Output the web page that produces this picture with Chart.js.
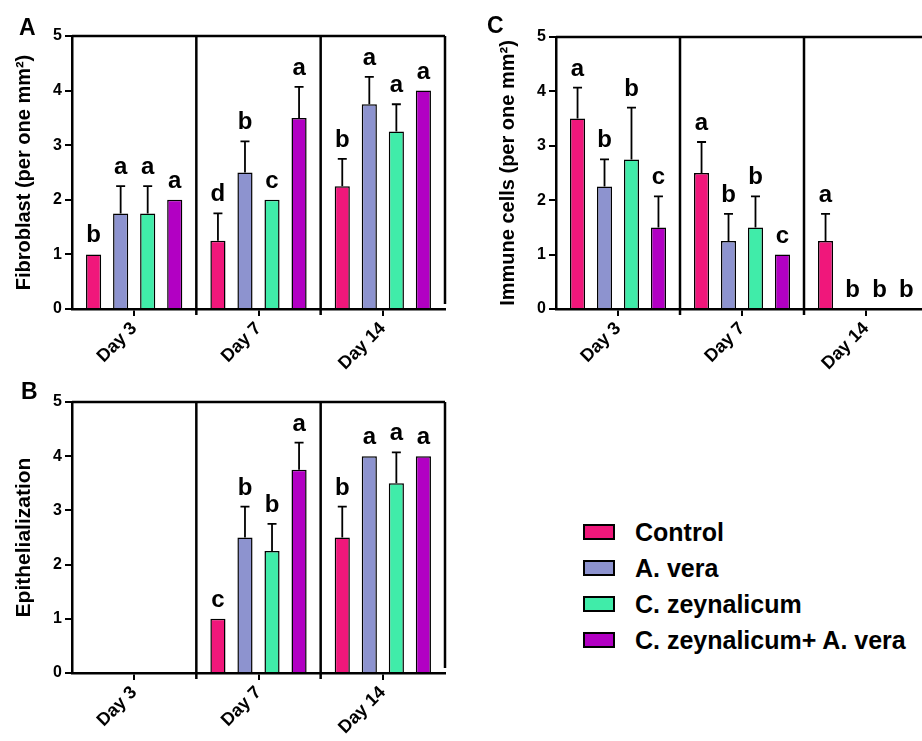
<!DOCTYPE html>
<html>
<head>
<meta charset="utf-8">
<script src="https://cdn.jsdelivr.net/npm/chart.js@4.4.1/dist/chart.umd.min.js"></script>
<style>
  body { margin: 0; width: 922px; height: 741px; overflow: hidden; background: #fff; position: relative; font-family: 'Liberation Sans', Arial, sans-serif; }
  canvas { position: absolute; }
  .panel { position: absolute; font-weight: bold; font-size: 23px; line-height: 23px; }
  #legend { position: absolute; left: 583px; top: 514px; }
  .row { height: 36px; display: flex; align-items: center; font-weight: bold; font-size: 25px; color: #000; }
  .box { width: 28px; height: 12px; border: 2px solid #000; margin-right: 20px; }
</style>
</head>
<body>
<canvas id="chartA" width="460" height="382" style="left:0;top:0"></canvas>
<canvas id="chartB" width="460" height="371" style="left:0;top:370px"></canvas>
<canvas id="chartC" width="470" height="382" style="left:460px;top:0"></canvas>
<div class="panel" style="left:19px;top:16px">A</div>
<div class="panel" style="left:21px;top:380px">B</div>
<div class="panel" style="left:487px;top:14px">C</div>
<div id="legend"></div>
<script>
// categories and groups
const days = ['Day 3', 'Day 7', 'Day 14'];
const groups = ['Control', 'A. vera', 'C. zeynalicum', 'C. zeynalicum+ A. vera'];
const colors = ['#F0177B', '#8D93CF', '#40ECA9', '#B200C3'];
const yTicks = [0, 1, 2, 3, 4, 5];

// A - fibroblast, one row per group (Day 3, Day 7, Day 14)
const fibroMean = [[1, 1.25, 2.25], [1.75, 2.5, 3.75], [1.75, 2, 3.25], [2, 3.5, 4]];
const fibroErr = [[0, 0.5, 0.5], [0.5, 0.57, 0.5], [0.5, 0, 0.5], [0, 0.57, 0]];
const fibroLetters = [['b', 'd', 'b'], ['a', 'b', 'a'], ['a', 'c', 'a'], ['a', 'a', 'a']];

// B - epithelialization
const epiMean = [[0, 1, 2.5], [0, 2.5, 4], [0, 2.25, 3.5], [0, 3.75, 4]];
const epiErr = [[0, 0, 0.57], [0, 0.57, 0], [0, 0.5, 0.57], [0, 0.5, 0]];
const epiLetters = [['', 'c', 'b'], ['', 'b', 'a'], ['', 'b', 'a'], ['', 'a', 'a']];

// C - immune cells
const immuneMean = [[3.5, 2.5, 1.25], [2.25, 1.25, 0], [2.75, 1.5, 0], [1.5, 1, 0]];
const immuneErr = [[0.57, 0.57, 0.5], [0.5, 0.5, 0], [0.95, 0.57, 0], [0.57, 0, 0]];
const immuneLetters = [['a', 'a', 'a'], ['b', 'b', 'b'], ['b', 'b', 'b'], ['c', 'c', 'b']];

Chart.defaults.font.family = "'Liberation Sans', Arial, sans-serif";
Chart.defaults.color = '#000';

// error bars (upper only) and significance letters
const errorBars = {
    id: 'errorBars',
    afterDatasetsDraw(chart) {
        const ctx = chart.ctx;
        const y = chart.scales.y;
        ctx.save();
        chart.data.datasets.forEach((ds, i) => {
            chart.getDatasetMeta(i).data.forEach((bar, j) => {
                const top = y.getPixelForValue(ds.data[j]);
                let peak = top;
                if (ds.errors[j] > 0) {
                    peak = y.getPixelForValue(ds.data[j] + ds.errors[j]);
                    ctx.strokeStyle = '#000';
                    ctx.lineWidth = 1.8;
                    ctx.beginPath();
                    ctx.moveTo(bar.x, top);
                    ctx.lineTo(bar.x, peak);
                    ctx.moveTo(bar.x - 4.5, peak);
                    ctx.lineTo(bar.x + 4.5, peak);
                    ctx.stroke();
                }
                if (ds.letters[j]) {
                    ctx.fillStyle = '#000';
                    ctx.font = "bold 24px 'Liberation Sans', Arial, sans-serif";
                    ctx.textAlign = 'center';
                    ctx.textBaseline = 'alphabetic';
                    ctx.fillText(ds.letters[j], bar.x, peak - 12);
                }
            });
        });
        ctx.restore();
    }
};

// frame: top border, right border and day separators
const frame = {
    id: 'frame',
    afterDraw(chart) {
        const ctx = chart.ctx;
        const x = chart.scales.x;
        const a = chart.chartArea;
        ctx.save();
        ctx.strokeStyle = '#000';
        ctx.lineWidth = 2.5;
        ctx.beginPath();
        ctx.moveTo(a.left, a.top);
        ctx.lineTo(a.right, a.top);
        ctx.moveTo(a.right, a.top);
        ctx.lineTo(a.right, a.bottom - 5);
        for (let i = 1; i < days.length; i++) {
            const px = (x.getPixelForValue(i - 1) + x.getPixelForValue(i)) / 2;
            ctx.moveTo(px, a.top);
            ctx.lineTo(px, a.bottom + 6);
        }
        ctx.stroke();
        ctx.restore();
    }
};

function makePanel(id, means, errs, letters, title, titleSize, pad) {
    const ctx = document.getElementById(id).getContext('2d');
    return new Chart(ctx, {
        type: 'bar',
        data: {
            labels: days,
            datasets: groups.map((g, i) => ({
                label: g,
                data: means[i],
                errors: errs[i],
                letters: letters[i],
                backgroundColor: colors[i],
                borderColor: '#000',
                borderWidth: 1.5,
                borderSkipped: 'bottom',
                categoryPercentage: 0.87,
                barPercentage: 0.56
            }))
        },
        options: {
            responsive: false,
            animation: false,
            layout: { padding: pad },
            plugins: { legend: { display: false }, tooltip: { enabled: false } },
            scales: {
                x: {
                    afterFit: s => { s.height = 61; },
                    grid: { offset: false, drawOnChartArea: false, color: '#000', lineWidth: 2, tickLength: 7 },
                    border: { color: '#000', width: 2.5 },
                    ticks: { minRotation: 45, maxRotation: 45, padding: 2, font: { size: 18, weight: 'bold' } }
                },
                y: {
                    min: 0,
                    max: 5,
                    afterFit: s => { s.width = 72; },
                    afterBuildTicks: s => { s.ticks = yTicks.map(v => ({ value: v })); },
                    grid: { drawOnChartArea: false, color: '#000', lineWidth: 2, tickLength: 7 },
                    border: { color: '#000', width: 2.5 },
                    ticks: { padding: 3, font: { size: 16, weight: 'bold' } },
                    title: { display: true, text: title, font: { size: titleSize, weight: 'bold' }, padding: { top: 12, bottom: 0 } }
                }
            }
        },
        plugins: [errorBars, frame]
    });
}

makePanel('chartA', fibroMean, fibroErr, fibroLetters, 'Fibroblast (per one mm²)', 20, { left: 0, right: 15, top: 36, bottom: 12 });
makePanel('chartB', epiMean, epiErr, epiLetters, 'Epithelialization', 21, { left: 0, right: 15, top: 32, bottom: 7 });
makePanel('chartC', immuneMean, immuneErr, immuneLetters, 'Immune cells (per one mm²)', 20, { left: 24, right: 2, top: 37, bottom: 12 });

// legend
document.getElementById('legend').innerHTML = groups.map((g, i) =>
    `<div class="row"><span class="box" style="background:${colors[i]}"></span>${g}</div>`
).join('');
</script>
</body>
</html>
